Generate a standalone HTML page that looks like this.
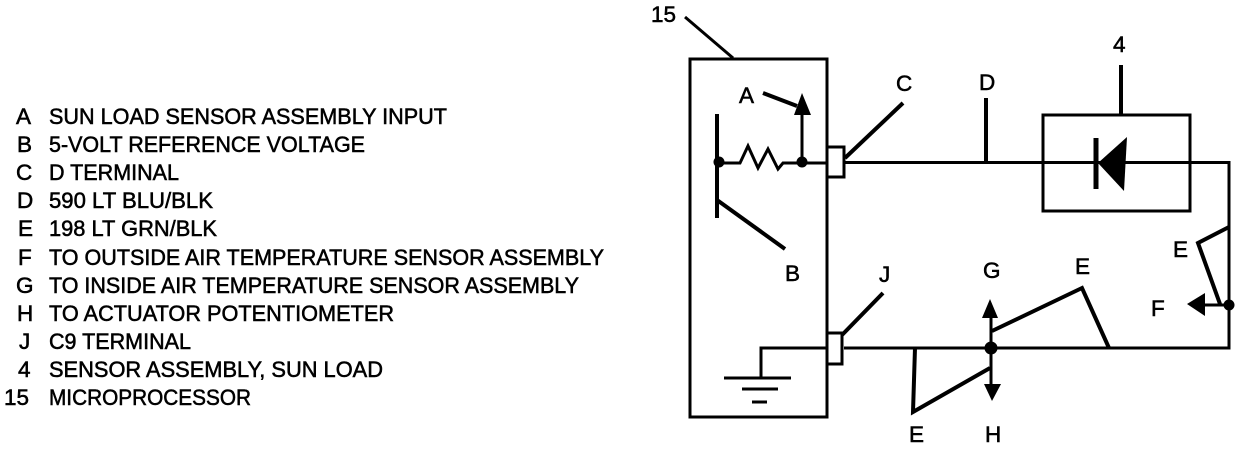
<!DOCTYPE html>
<html>
<head>
<meta charset="utf-8">
<style>
html,body{margin:0;padding:0;background:#fff;width:1248px;height:450px;overflow:hidden}
svg{display:block}
text{font-family:"Liberation Sans",sans-serif;font-size:22.5px;fill:#000;stroke:#000;stroke-width:.55px}
.l{stroke:#000;stroke-width:3;fill:none;stroke-linejoin:miter;stroke-linecap:butt}
.h{stroke-width:4}
.f{fill:#000;stroke:none}
</style>
</head>
<body>
<svg width="1248" height="450" viewBox="0 0 1248 450" xmlns="http://www.w3.org/2000/svg">
<rect width="1248" height="450" fill="#fff"/>
<!-- legend -->
<g>
<text x="16" y="124">A</text><text x="49" y="124" textLength="398" lengthAdjust="spacingAndGlyphs">SUN LOAD SENSOR ASSEMBLY INPUT</text>
<text x="17" y="152">B</text><text x="49" y="152" textLength="316" lengthAdjust="spacingAndGlyphs">5-VOLT REFERENCE VOLTAGE</text>
<text x="16" y="180">C</text><text x="49" y="180" textLength="130" lengthAdjust="spacingAndGlyphs">D TERMINAL</text>
<text x="17" y="208">D</text><text x="49" y="208" textLength="164" lengthAdjust="spacingAndGlyphs">590 LT BLU/BLK</text>
<text x="18" y="236">E</text><text x="49" y="236" textLength="168" lengthAdjust="spacingAndGlyphs">198 LT GRN/BLK</text>
<text x="18" y="265">F</text><text x="49" y="265" textLength="555" lengthAdjust="spacingAndGlyphs">TO OUTSIDE AIR TEMPERATURE SENSOR ASSEMBLY</text>
<text x="16" y="293">G</text><text x="49" y="293" textLength="530" lengthAdjust="spacingAndGlyphs">TO INSIDE AIR TEMPERATURE SENSOR ASSEMBLY</text>
<text x="17" y="321">H</text><text x="49" y="321" textLength="345" lengthAdjust="spacingAndGlyphs">TO ACTUATOR POTENTIOMETER</text>
<text x="19" y="349">J</text><text x="49" y="349" textLength="142" lengthAdjust="spacingAndGlyphs">C9 TERMINAL</text>
<text x="18" y="377">4</text><text x="49" y="377" textLength="334" lengthAdjust="spacingAndGlyphs">SENSOR ASSEMBLY, SUN LOAD</text>
<text x="4" y="405">15</text><text x="49" y="405" textLength="202" lengthAdjust="spacingAndGlyphs">MICROPROCESSOR</text>
</g>
<!-- diagram labels -->
<text x="651" y="22">15</text>
<text x="739" y="103">A</text>
<text x="785" y="281">B</text>
<text x="896" y="91">C</text>
<text x="979" y="90">D</text>
<text x="1113" y="52">4</text>
<text x="1173" y="257">E</text>
<text x="1151" y="316">F</text>
<text x="879" y="282">J</text>
<text x="983" y="278">G</text>
<text x="1075" y="274">E</text>
<text x="909" y="442">E</text>
<text x="985" y="442">H</text>
<!-- microprocessor box -->
<rect class="l" x="690" y="59" width="137" height="358"/>
<path class="l" d="M685 17L733 58"/>
<!-- internal circuit -->
<path class="l h" d="M717 114V218"/>
<path class="l h" d="M717 200L785 249"/>
<path class="l" d="M719 163H740L748 146L758 168L768 149L778 169L783 163H827"/>
<circle class="f" cx="719" cy="162" r="5.500"/>
<circle class="f" cx="802" cy="162" r="5.500"/>
<path class="l" d="M802 162V112"/>
<polygon class="f" points="802,93 811,115 794,115"/>
<path class="l h" d="M763 93L797 106"/>
<!-- C connector -->
<path class="l" d="M827 147H844V177H827"/>
<path class="l h" d="M845 158L903 103"/>
<!-- top line -->
<path class="l" d="M844 162.500H1229V348H844"/>
<path class="l h" d="M986 98V162"/>
<!-- sensor box -->
<rect class="l" x="1043" y="115" width="147" height="96"/>
<path class="l h" d="M1121 65V115"/>
<path class="l" stroke-width="5" style="stroke-width:5" d="M1096 138V189"/>
<polygon class="f" points="1098,163 1127,137 1124,191"/>
<!-- F branch -->
<circle class="f" cx="1229" cy="305" r="5.500"/>
<path class="l" d="M1203 305H1229"/>
<polygon class="f" points="1187,304 1205,293 1205,316"/>
<path class="l h" d="M1229 227L1198 243L1220 304"/>
<!-- J connector -->
<path class="l" d="M827 333H842V364H827"/>
<path class="l h" d="M842 335L883 293"/>
<!-- ground -->
<path class="l" d="M827 348H761V378"/>
<path class="l" d="M724 378H791"/>
<path class="l" d="M742 389H778"/>
<path class="l" d="M752 402H767"/>
<!-- bottom branches -->
<circle class="f" cx="991" cy="348" r="6.500"/>
<path class="l" d="M991 315V386"/>
<polygon class="f" points="990,299 998,318 982,318"/>
<polygon class="f" points="992,401 1001,384 984,384"/>
<path class="l h" d="M915 348L913 412L990 368"/>
<path class="l h" d="M992 331L1082 288L1109 348"/>
</svg>
</body>
</html>
